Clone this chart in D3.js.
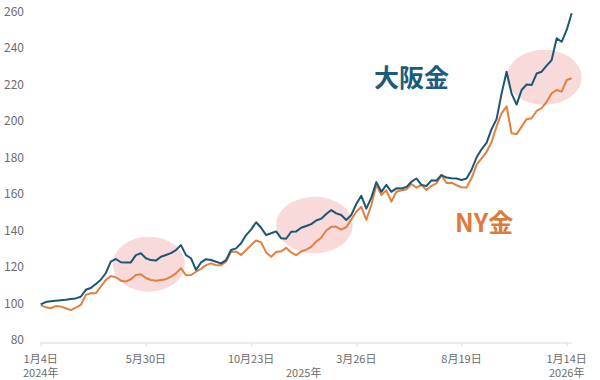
<!DOCTYPE html>
<html>
<head>
<meta charset="utf-8">
<script src="https://cdn.jsdelivr.net/npm/d3@7"></script>
<style>
  body { margin: 0; background: #fff; }
  svg { font-family: "Noto Sans CJK JP", "Noto Sans", sans-serif; }
</style>
</head>
<body>
<svg id="chart" width="600" height="380"></svg>
<script>
// weekly points, index 0 = 2024/1/4
const osaka = [99.5, 100.8, 101.2, 101.5, 101.8, 102.0, 102.5, 102.8, 103.7, 107.5,
  108.5, 110.7, 113, 116.7, 123, 124.4, 122.6, 122.5, 122.5, 126.5,
  127.5, 124.8, 123.8, 123.5, 125.6, 126.6, 127.6, 129.3, 132, 126.5,
  124.8, 118.4, 122.5, 124.3, 123.8, 122.9, 122, 123.8, 129.3, 130.2,
  133, 137.5, 140.5, 144.5, 141.5, 137.5, 138.5, 139.5, 135.7, 135.5,
  139.3, 139.5, 141.5, 142.5, 143.5, 145.5, 146.5, 149, 151.2, 149.4,
  148.5, 145.8, 148.5, 154.5, 159, 152, 158, 166.5, 161.2, 165,
  161.2, 163.1, 163, 163.8, 166.7, 168.5, 165, 164.4, 167.5, 167.3,
  170.4, 169, 168.6, 168.5, 167.7, 168.5, 173.2, 180, 184.5, 188,
  195.5, 201, 215, 227, 215, 209, 217, 220, 219.7, 226,
  227, 230.3, 233.4, 245.3, 243.4, 249.9, 259];

const ny = [99, 98, 97.4, 98.6, 98.3, 97.4, 96.4, 97.7, 99.2, 104.7,
  105.6, 105.6, 109.2, 112.9, 115, 114.4, 112.5, 112, 113.3, 115.6,
  116, 114, 112.9, 112.5, 112.9, 113.3, 114.7, 116.5, 119.3, 115.5,
  115.6, 117.4, 119, 121, 122, 121, 121, 122.9, 128.4, 128.4,
  126.6, 129.3, 132, 134.5, 133.5, 128, 125.6, 128.2, 128.6, 130.5,
  128, 126.5, 128.5, 129.5, 131, 134, 136, 140, 142, 142,
  140.5, 141.8, 146, 150.3, 153, 145.8, 154, 165, 159.5, 162,
  155.8, 161.2, 162, 162.5, 165.5, 163.5, 165, 162.2, 164.5, 165.8,
  170.4, 166, 166.2, 164.8, 163.7, 163.5, 168.6, 176, 179.5, 183,
  188.5, 197, 204.2, 208, 193.3, 192.8, 196.9, 201, 201.5, 205.5,
  207, 210.5, 215.2, 217, 216.1, 222.5, 223.4];

const tickIdx = [0, 21, 42, 63, 84, 105];
const tickLabels = ["1月4日", "5月30日", "10月23日", "3月26日", "8月19日", "1月14日"];
const yearIdx = [0, 52.5, 105];
const yearLabels = ["2024年", "2025年", "2026年"];
const yTicks = [80, 100, 120, 140, 160, 180, 200, 220, 240, 260];

// highlighted stretches: [from index, to index, low value, high value]
const highlights = [
  [14.4, 28.8, 106.5, 136.6],
  [47, 62.3, 127.5, 158.5],
  [93, 108, 208.8, 239]
];

const svg = d3.select("#chart");

const x = d3.scaleLinear().domain([0, 106]).range([40.7, 571.7]);
const y = d3.scaleLinear().domain([80, 260]).range([340, 11.5]);

const blue = "#1c5674", orange = "#e2803e";

// pink circles
svg.append("g").selectAll("ellipse").data(highlights).enter().append("ellipse")
  .attr("cx", d => (x(d[0]) + x(d[1])) / 2)
  .attr("cy", d => (y(d[2]) + y(d[3])) / 2)
  .attr("rx", d => (x(d[1]) - x(d[0])) / 2)
  .attr("ry", d => (y(d[2]) - y(d[3])) / 2)
  .attr("fill", "#f9dada");

// y labels
svg.append("g").selectAll("text").data(yTicks).enter().append("text")
  .attr("x", 24).attr("y", d => y(d)).attr("dy", "0.35em")
  .attr("text-anchor", "end").attr("font-size", 12).attr("fill", "#6b6b6b")
  .text(d => d);

// x axis
let axisY = y(80) + 3;
let xAxis = svg.append("g").attr("transform", "translate(0," + axisY + ")")
  .call(d3.axisBottom(x).tickValues(tickIdx).tickSize(3).tickFormat(""));
xAxis.select(".domain").attr("stroke", "#d9d9d9").attr("d", "M40.7,0H572");
xAxis.selectAll(".tick line").attr("stroke", "#d9d9d9");

// date labels, years on a second row
let labels = svg.append("g").attr("font-size", 11).attr("fill", "#6b6b6b")
  .attr("text-anchor", "middle");

labels.selectAll(".day").data(tickIdx).enter().append("text")
  .attr("class", "day")
  .attr("x", d => x(d)).attr("y", axisY + 20)
  .text((d, i) => tickLabels[i]);

labels.selectAll(".year").data(yearIdx).enter().append("text")
  .attr("class", "year")
  .attr("x", d => x(d)).attr("y", axisY + 33.5)
  .text((d, i) => yearLabels[i]);

// lines
let line = d3.line().x((d, i) => x(i)).y(d => y(d));

svg.append("path").datum(ny).attr("d", line)
  .attr("fill", "none").attr("stroke", orange).attr("stroke-width", 2)
  .attr("stroke-linejoin", "round");

svg.append("path").datum(osaka).attr("d", line)
  .attr("fill", "none").attr("stroke", blue).attr("stroke-width", 2)
  .attr("stroke-linejoin", "round");

// series labels
svg.append("text").attr("x", 374).attr("y", 87)
  .attr("font-size", 25).attr("font-weight", "bold").attr("fill", "#1d5b7b")
  .text("大阪金");

svg.append("text").attr("x", 455).attr("y", 232)
  .attr("font-size", 25).attr("font-weight", "bold").attr("fill", "#e07a3a")
  .text("NY金");
</script>
</body>
</html>
